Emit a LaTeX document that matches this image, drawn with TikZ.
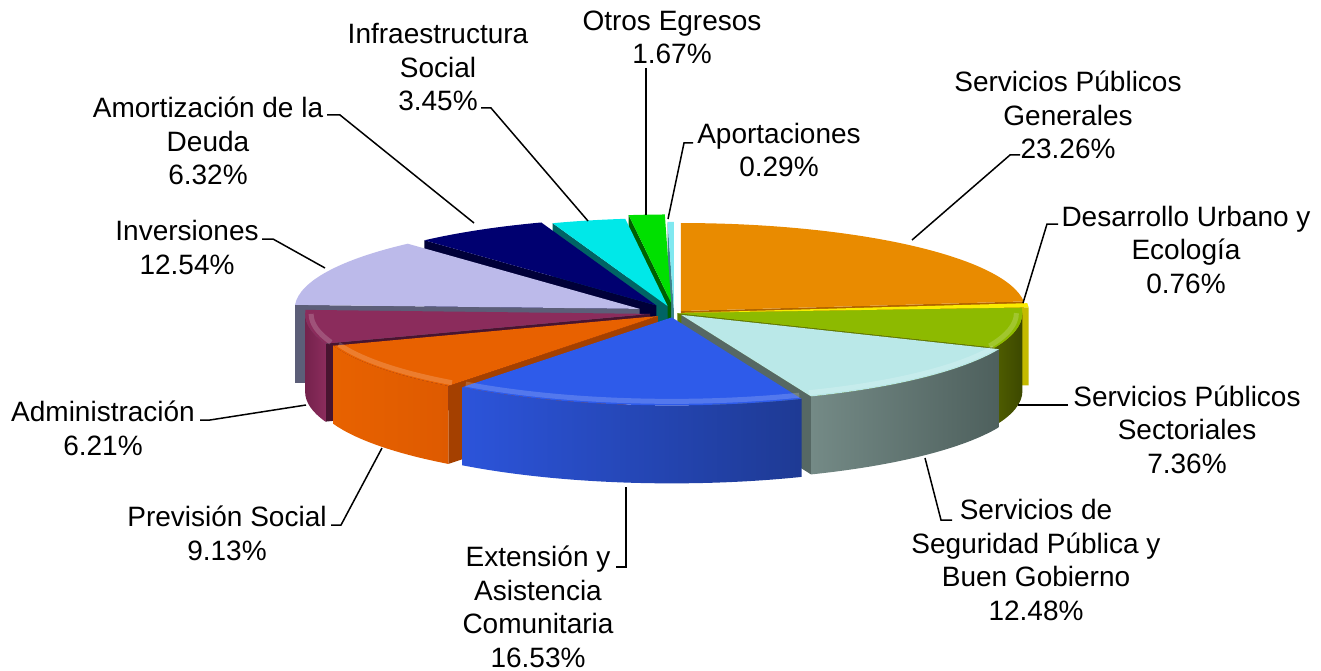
\documentclass[tikz,border=0pt]{standalone}
\usepackage{fontspec}
\setmainfont{Liberation Sans}
\usetikzlibrary{calc}
% slice colours: top, face, wall
\definecolor{orangeT}{RGB}{233,139,0}   \definecolor{orangeF}{RGB}{176,100,0}
\definecolor{yellowT}{RGB}{250,236,0}   \definecolor{yellowF}{RGB}{196,186,0}
\definecolor{limeT}{RGB}{141,186,0}     \definecolor{limeF}{RGB}{96,122,0}
\definecolor{limeWl}{RGB}{80,94,0}      \definecolor{limeWr}{RGB}{60,72,0}
\definecolor{paleT}{RGB}{186,232,232}   \definecolor{paleF}{RGB}{86,104,100}
\definecolor{paleWl}{RGB}{116,138,134}  \definecolor{paleWr}{RGB}{78,96,93}
\definecolor{blueT}{RGB}{46,91,234}
\definecolor{blueWl}{RGB}{44,84,218}    \definecolor{blueWr}{RGB}{30,58,148}
\definecolor{redT}{RGB}{232,97,0}       \definecolor{redF}{RGB}{164,64,0}
\definecolor{redWl}{RGB}{232,98,0}      \definecolor{redWr}{RGB}{222,90,0}
\definecolor{maroonT}{RGB}{139,44,92}   \definecolor{maroonF}{RGB}{72,20,48}
\definecolor{maroonWl}{RGB}{116,34,76}  \definecolor{maroonWr}{RGB}{139,44,92}
\definecolor{lavT}{RGB}{188,186,234}    \definecolor{lavF}{RGB}{92,94,120}
\definecolor{navyT}{RGB}{0,0,112}       \definecolor{navyF}{RGB}{0,0,56}
\definecolor{cyanT}{RGB}{0,232,232}     \definecolor{cyanF}{RGB}{0,100,100}
\definecolor{greenT}{RGB}{0,224,0}      \definecolor{greenF}{RGB}{0,96,0}
\definecolor{iceT}{RGB}{128,232,240}    \definecolor{iceF}{RGB}{60,130,140}
% pie geometry (pixels)
\def\pcx{674} \def\pcy{313} \def\prx{345} \def\pry{88} \def\pdep{78}
% #1 from, #2 to (degrees, ccw), #3 explode, #4 top, #5 face, #6/#7 wall left/right, #8 name
\newcommand\pieslice[8]{%
  \pgfmathsetmacro\pmid{(#1+#2)/2}
  \pgfmathsetmacro\px{\pcx+#3*\prx*cos(\pmid)}
  \pgfmathsetmacro\py{\pcy-#3*\pry*sin(\pmid)}
  \coordinate (#8) at (\px,\py);
  \pgfmathsetmacro\pca{cos(#1)}
  \ifdim\pca pt>0pt
    \fill[#5] (#8) -- ++({\prx*cos(#1)},{-\pry*sin(#1)}) -- ++(0,\pdep)
      -- ++({-\prx*cos(#1)},{\pry*sin(#1)}) -- cycle;
  \fi
  \pgfmathsetmacro\pcb{cos(#2)}
  \ifdim\pcb pt<0pt
    \fill[#5] (#8) -- ++({\prx*cos(#2)},{-\pry*sin(#2)}) -- ++(0,\pdep)
      -- ++({-\prx*cos(#2)},{\pry*sin(#2)}) -- cycle;
  \fi
  \pgfmathsetmacro\pwa{max(#1,180)}
  \pgfmathsetmacro\pwb{min(#2,360)}
  \ifdim\pwa pt<\pwb pt
    \pgfmathsetmacro\pwx{\px+\prx*cos(\pwa)}
    \pgfmathsetmacro\pwy{\py-\pry*sin(\pwa)}
    \shade[left color=#6, right color=#7] (\pwx,\pwy)
      arc[start angle=-\pwa, end angle=-\pwb, x radius=\prx, y radius=\pry]
      -- ++(0,\pdep)
      arc[start angle=-\pwb, end angle=-\pwa, x radius=\prx, y radius=\pry] -- cycle;
  \fi
  \fill[#4] (#8) -- ++({\prx*cos(#1)},{-\pry*sin(#1)})
    arc[start angle=-#1, end angle=-#2, x radius=\prx, y radius=\pry] -- cycle;
  % light bevel along the front rim
  \ifdim\pwa pt<\pwb pt
    \draw[white, opacity=.18, line width=5pt] (#8) ++({(\prx-6)*cos(\pwa)},{-(\pry-4)*sin(\pwa)})
      arc[start angle=-\pwa, end angle=-\pwb, x radius=\prx-6, y radius=\pry-4];
  \fi
}
\tikzset{
  pie label/.style={align=center, inner sep=0pt, anchor=base,
    font=\fontsize{28}{33.5}\selectfont},
  leader/.style={draw, line width=1.5pt, line join=miter}
}

\begin{document}
\begin{tikzpicture}[x=1pt, y=-1pt]
  \useasboundingbox (0,0) rectangle (1321,671);
  % slices, back to front
  \pieslice{90}{91.04}{0.035}{iceT}{iceF}{iceF}{iceF}{sIce}
  \pieslice{91.04}{97.06}{0.12}{greenT}{greenF}{greenF}{greenF}{sGreen}
  \pieslice{97.06}{109.48}{0.08}{cyanT}{cyanF}{cyanF}{cyanF}{sCyan}
  \pieslice{109.48}{132.23}{0.1}{navyT}{navyF}{navyF}{navyF}{sNavy}
  \pieslice{6.26}{90}{0.03}{orangeT}{orangeF}{orangeF}{orangeF}{sOrange}
  \pieslice{132.23}{177.37}{0.11}{lavT}{lavF}{lavF}{lavF}{sLav}
  \pieslice{3.53}{6.26}{0.03}{yellowT}{yellowF}{yellowF}{yellowF}{sYellow}
  \pieslice{177.37}{199.73}{0.07}{maroonT}{maroonF}{maroonWl}{maroonWr}{sMaroon}
  \pieslice{337.03}{363.53}{0.01}{limeT}{limeF}{limeWl}{limeWr}{sLime}
  \pieslice{199.73}{232.6}{0.058}{redT}{redF}{redWl}{redWr}{sRed}
  \pieslice{292.1}{337.03}{0.03}{paleT}{paleF}{paleWl}{paleWr}{sPale}
  \pieslice{232.6}{292.1}{0.05}{blueT}{blueT}{blueWl}{blueWr}{sBlue}

  % labels (anchored at the baseline of the last line)
  \node[pie label] (lInfra) at (438,111) {Infraestructura\\Social\\3.45\%};
  \node[pie label] (lOtros) at (672,64) {Otros Egresos\\1.67\%};
  \node[pie label] (lGen) at (1068,159) {Servicios Públicos\\Generales\\23.26\%};
  \node[pie label] (lAport) at (779,177) {Aportaciones\\0.29\%};
  \node[pie label] (lAmort) at (208,185) {Amortización de la\\Deuda\\6.32\%};
  \node[pie label] (lInv) at (187,274) {Inversiones\\12.54\%};
  \node[pie label] (lDes) at (1186,293) {Desarrollo Urbano y\\Ecología\\0.76\%};
  \node[pie label] (lSec) at (1187,473) {Servicios Públicos\\Sectoriales\\7.36\%};
  \node[pie label] (lAdm) at (103,455) {Administración\\6.21\%};
  \node[pie label] (lPrev) at (227,560) {Previsión Social\\9.13\%};
  \node[pie label] (lExt) at (538,667) {Extensión y\\Asistencia\\Comunitaria\\16.53\%};
  \node[pie label] (lSeg) at (1036,620) {Servicios de\\Seguridad Pública y\\Buen Gobierno\\12.48\%};

  % leader ends
  \coordinate (aInfra) at (481,108); \coordinate (tInfra) at (588,221);
  \coordinate (aOtros) at (646,68);  \coordinate (tOtros) at (646,215);
  \coordinate (aAport) at (693,143); \coordinate (tAport) at (668,219);
  \coordinate (aGen) at (1020,155);  \coordinate (tGen) at (912,240);
  \coordinate (aAmort) at (327,115); \coordinate (tAmort) at (474,223);
  \coordinate (aInv) at (262,239);   \coordinate (tInv) at (325,268);
  \coordinate (aDes) at (1058,224);  \coordinate (tDes) at (1023,303);
  \coordinate (aSec) at (1068,405);  \coordinate (tSec) at (1018,405);
  \coordinate (aSeg) at (952,520);   \coordinate (tSeg) at (925,458);
  \coordinate (aExt) at (616,567);   \coordinate (tExt) at (626,487);
  \coordinate (aPrev) at (331,525);  \coordinate (tPrev) at (382,448);
  \coordinate (aAdm) at (200,420);   \coordinate (tAdm) at (306,405);

  % leaders
  \draw[leader] (aInfra) -- ++(10,0) -- (tInfra);
  \draw[leader] (aOtros) -- (tOtros);
  \draw[leader] (aAport) -- ++(-9,0) -- (tAport);
  \draw[leader] (aGen) -- ++(-10,0) -- (tGen);
  \draw[leader] (aAmort) -- ++(13,0) -- (tAmort);
  \draw[leader] (aInv) -- ++(11,0) -- (tInv);
  \draw[leader] (aDes) -- ++(-11,0) -- (tDes);
  \draw[leader] (aSec) -- (tSec);
  \draw[leader] (aSeg) -- ++(-11,0) -- (tSeg);
  \draw[leader] (aExt) -- ++(10,0) -- (tExt);
  \draw[leader] (aPrev) -- ++(10,0) -- (tPrev);
  \draw[leader] (aAdm) -- ++(10,0) -- (tAdm);
\end{tikzpicture}
\end{document}
